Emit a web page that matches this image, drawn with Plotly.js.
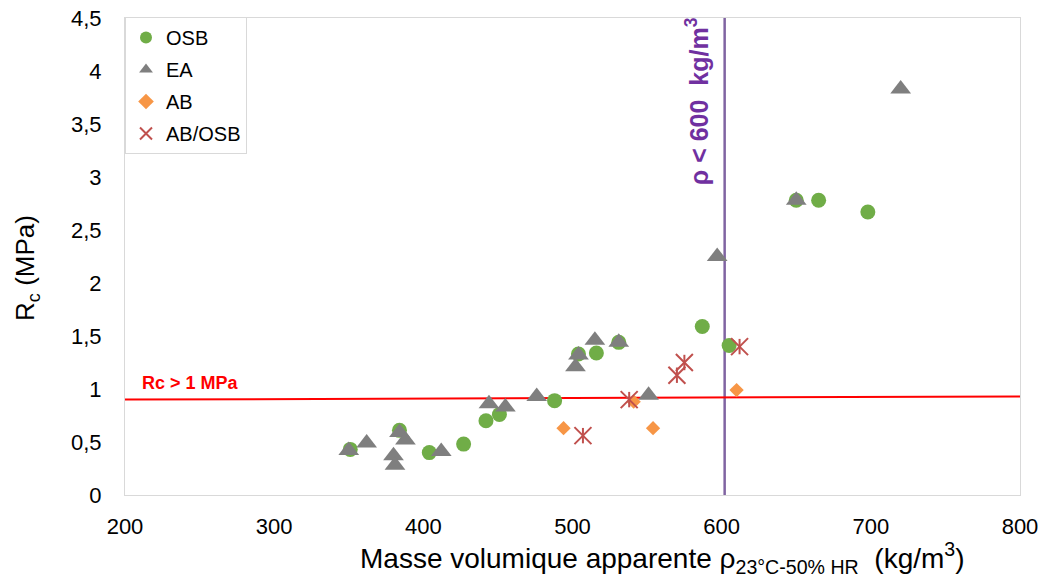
<!DOCTYPE html>
<html>
<head>
<meta charset="utf-8">
<script src="https://cdn.plot.ly/plotly-3.0.1.min.js"></script>
<style>html,body{margin:0;padding:0;background:#fff}#chart{width:1043px;height:577px}</style>
</head>
<body>
<div id="chart"></div>
<script>
// OSB
var osbX = [351, 384, 404, 427, 442, 451, 488, 504, 516, 531, 587, 605, 650, 665, 698];
var osbY = [0.43, 0.61, 0.40, 0.48, 0.70, 0.76, 0.89, 1.33, 1.34, 1.44, 1.59, 1.41, 2.78, 2.78, 2.67];
// EA
var eaX = [350, 362, 380, 381, 384, 388, 412, 444, 455, 476, 502, 504, 515, 531, 551, 597, 650, 720];
var eaY = [0.42, 0.49, 0.37, 0.28, 0.59, 0.52, 0.41, 0.86, 0.83, 0.93, 1.21, 1.32, 1.46, 1.44, 0.94, 2.25, 2.78, 3.83];
// AB
var abX = [494, 541, 554, 610];
var abY = [0.63, 0.88, 0.63, 0.99];
// AB/OSB
var aboX = [507, 538, 570, 575, 612];
var aboY = [0.56, 0.90, 1.13, 1.25, 1.40];
// reference lines
var rcLineX = [200, 800];
var rcLineY = [0.90, 0.93];
var rhoLimit = 602;
var xTicks = [200, 300, 400, 500, 600, 700, 800];
var yTicks = [0, 0.5, 1, 1.5, 2, 2.5, 3, 3.5, 4, 4.5];

var font = 'Liberation Sans, Arial, sans-serif';

var traces = [
  {x: osbX, y: osbY, name: 'OSB', type: 'scatter', mode: 'markers', legendgroup: 'a',
   marker: {symbol: 'circle', size: 15, color: '#70AD47'}},
  {x: eaX, y: eaY, name: 'EA', type: 'scatter', mode: 'markers', legendgroup: 'b',
   marker: {symbol: 'triangle-up', size: 18, color: '#7F7F7F'}},
  {x: abX, y: abY, name: 'AB', type: 'scatter', mode: 'markers', legendgroup: 'c',
   marker: {symbol: 'diamond', size: 11, color: '#F79646'}},
  {x: aboX, y: aboY, name: 'AB/OSB', type: 'scatter', mode: 'markers', legendgroup: 'd',
   marker: {symbol: 'x-thin-open', size: 17, color: '#C0504D', line: {width: 2, color: '#C0504D'}}},
  {x: aboX, y: aboY, name: 'AB/OSB', type: 'scatter', mode: 'markers', legendgroup: 'd', showlegend: false,
   marker: {symbol: 'line-ns-open', size: 11, color: '#C0504D', line: {width: 2, color: '#C0504D'}}}
];

var layout = {
  width: 1043, height: 577,
  margin: {l: 125, r: 23, t: 18, b: 82},
  paper_bgcolor: '#fff', plot_bgcolor: '#fff',
  separators: ', ',
  font: {family: font, color: '#000', size: 22},
  showlegend: true,
  legend: {x: 0, y: 1.002, xanchor: 'left', yanchor: 'top', bgcolor: '#fff',
           bordercolor: '#D9D9D9', borderwidth: 1, font: {size: 20, family: font},
           tracegroupgap: 3, itemsizing: 'constant', itemwidth: 30},
  xaxis: {range: [200, 800], tickvals: xTicks, showgrid: false, zeroline: false,
          showline: true, mirror: true, linecolor: '#D9D9D9', linewidth: 1,
          ticks: '', tickfont: {size: 22}, ticklabelstandoff: 12},
  yaxis: {range: [0, 4.5], tickvals: yTicks, showgrid: false, zeroline: false,
          showline: true, mirror: true, linecolor: '#D9D9D9', linewidth: 1,
          ticks: '', tickfont: {size: 22}, ticklabelstandoff: 18},
  shapes: [
    {type: 'line', xref: 'x', yref: 'y', x0: rcLineX[0], x1: rcLineX[1], y0: rcLineY[0], y1: rcLineY[1],
     line: {color: '#FF0000', width: 2}, layer: 'below'},
    {type: 'line', xref: 'x', yref: 'paper', x0: rhoLimit, x1: rhoLimit, y0: 0, y1: 1,
     line: {color: '#8064A2', width: 2.5}, layer: 'below'}
  ],
  annotations: [
    {text: '<b>Rc > 1 MPa</b>', xref: 'x', yref: 'y', x: 210, y: 1.057, xanchor: 'left', yanchor: 'middle',
     showarrow: false, font: {size: 18, color: '#FF0000', family: font}},
    {text: '<b>ρ < 600  kg/m<sup>3</sup></b>', xref: 'x', yref: 'paper', x: rhoLimit, y: 1.005,
     xanchor: 'right', yanchor: 'top', xshift: -10, textangle: -90, showarrow: false,
     font: {size: 25, color: '#7030A0', family: font}},
    {text: 'R<sub>c</sub> (MPa)', xref: 'paper', yref: 'paper', x: -0.1095, y: 0.476,
     xanchor: 'center', yanchor: 'middle', textangle: -90, showarrow: false,
     font: {size: 26, family: font}},
    {text: 'Masse volumique apparente ρ<sub>23°C-50% HR</sub>  (kg/m<sup>3</sup>)', xref: 'paper', yref: 'paper',
     x: 0.6006, y: -0.132, xanchor: 'center', yanchor: 'middle', showarrow: false,
     font: {size: 28, family: font}}
  ]
};

Plotly.newPlot('chart', traces, layout, {displayModeBar: false, staticPlot: true});
</script>
</body>
</html>
